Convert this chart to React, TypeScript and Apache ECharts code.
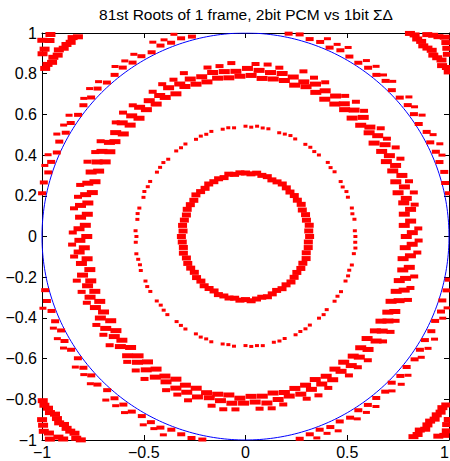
import React, { useEffect, useRef } from "react";
import * as echarts from "echarts";

// ---- data (radii, indexed by evenly spaced angles) ----
const TITLE = "81st Roots of 1 frame, 2bit PCM vs 1bit ΣΔ";
const X_TICKS_INTERVAL = 0.5;
const Y_TICKS_INTERVAL = 0.2;

// inner ring, 5° steps
const ringA = [
  0.315, 0.312, 0.318, 0.310, 0.314, 0.308, 0.316, 0.311, 0.313, 0.309, 0.312, 0.315,
  0.310, 0.307, 0.313, 0.311, 0.316, 0.309, 0.312, 0.314, 0.310, 0.317, 0.308, 0.313,
  0.311, 0.315, 0.309, 0.312, 0.318, 0.310, 0.313, 0.316, 0.309, 0.311, 0.314, 0.308,
  0.315, 0.312, 0.310, 0.316, 0.309, 0.313, 0.311, 0.307, 0.314, 0.310, 0.316, 0.312,
  0.309, 0.315, 0.311, 0.313, 0.308, 0.314, 0.310, 0.317, 0.312, 0.309, 0.315, 0.311,
  0.306, 0.313, 0.310, 0.316, 0.312, 0.308, 0.314, 0.311, 0.317, 0.309, 0.313, 0.310,
];

// thin ring, 3° steps (null = gap)
const ringB = [
  0.540, 0.538, null, 0.542, 0.537, 0.541, null, 0.539, 0.543, 0.536, 0.540, null,
  0.541, 0.538, 0.544, null, 0.539, 0.537, 0.542, 0.540, null, 0.538, 0.543, 0.539,
  0.536, null, 0.541, 0.540, 0.545, 0.538, 0.542, null, 0.537, 0.541, 0.539, null,
  0.543, 0.538, 0.540, 0.536, null, 0.542, 0.539, 0.541, null, 0.537, 0.543, 0.540,
  0.538, null, 0.541, 0.539, 0.544, 0.537, null, 0.540, 0.542, 0.538, null, 0.541,
  0.536, 0.540, null, 0.543, 0.539, 0.537, 0.541, null, 0.538, 0.542, 0.540, null,
  0.539, 0.536, 0.541, 0.543, null, 0.538, 0.540, 0.542, null, 0.537, 0.541, 0.539,
  0.544, null, 0.540, 0.538, 0.542, null, 0.536, 0.541, 0.539, 0.543, null, 0.538,
  0.540, 0.537, null, 0.542, 0.539, 0.541, 0.538, null, 0.540, 0.543, 0.537, null,
  0.541, 0.539, 0.542, null, 0.538, 0.540, 0.536, 0.541, null, 0.539, 0.543, 0.540,
];

// thick ring, three layers, 4° steps
const ringCInner = [
  0.790, 0.782, 0.788, 0.795, 0.780, 0.786, 0.792, 0.784, 0.789, 0.781,
  0.793, 0.787, 0.783, 0.791, 0.785, 0.779, 0.788, 0.794, 0.782, 0.790,
  0.786, 0.781, 0.792, 0.788, 0.784, 0.790, 0.783, 0.787, 0.795, 0.780,
  0.789, 0.785, 0.791, 0.782, 0.788, 0.784, 0.793, 0.786, 0.781, 0.790,
  0.787, 0.783, 0.792, 0.785, 0.789, 0.780, 0.794, 0.786, 0.782, 0.791,
  0.788, 0.784, 0.790, 0.781, 0.787, 0.793, 0.785, 0.789, 0.782, 0.786,
  0.792, 0.780, 0.788, 0.784, 0.791, 0.787, 0.783, 0.795, 0.786, 0.789,
  0.781, 0.790, 0.785, 0.788, 0.782, 0.793, 0.786, 0.784, 0.791, 0.787,
  0.780, 0.789, 0.785, 0.792, 0.783, 0.788, 0.786, 0.790, 0.782, 0.787,
];
const ringCMid = [
  0.820, 0.815, 0.822, 0.812, 0.818, 0.825, 0.816, 0.811, 0.821, 0.817,
  0.814, 0.823, 0.819, 0.813, 0.820, 0.816, 0.824, 0.812, 0.818, 0.821,
  0.815, 0.819, 0.826, 0.813, 0.817, 0.822, 0.814, 0.820, 0.816, 0.823,
  0.811, 0.818, 0.821, 0.815, 0.824, 0.817, 0.813, 0.820, 0.816, 0.822,
  0.818, 0.812, 0.825, 0.816, 0.819, 0.814, 0.821, 0.817, 0.823, 0.813,
  0.820, 0.816, 0.818, 0.822, 0.811, 0.819, 0.824, 0.815, 0.817, 0.821,
  0.814, 0.820, 0.818, 0.823, 0.812, 0.816, 0.822, 0.819, 0.815, 0.825,
  0.817, 0.813, 0.821, 0.818, 0.816, 0.824, 0.812, 0.820, 0.815, 0.819,
  0.822, 0.817, 0.814, 0.821, 0.818, 0.823, 0.813, 0.819, 0.816, 0.820,
];
const ringCOuter = [
  0.850, null, 0.846, 0.855, 0.848, null, 0.852, 0.858, 0.845, 0.851,
  null, 0.849, 0.856, 0.847, null, 0.853, 0.850, 0.860, null, 0.846,
  0.852, 0.849, null, 0.855, 0.847, 0.851, null, 0.858, 0.848, 0.853,
  0.845, null, 0.850, 0.856, 0.849, null, 0.852, 0.847, 0.859, null,
  0.851, 0.846, 0.854, null, 0.849, 0.853, 0.848, null, 0.857, 0.850,
  0.845, null, 0.852, 0.849, 0.855, null, 0.847, 0.851, 0.858, null,
  0.850, 0.846, 0.853, null, 0.848, 0.856, 0.851, null, 0.849, 0.854,
  0.846, null, 0.852, 0.859, 0.848, null, 0.851, 0.847, 0.855, null,
  0.850, 0.853, 0.846, null, 0.857, 0.849, 0.852, null, 0.848, 0.851,
];

// ring just outside the unit circle, two layers, 3° steps
const ringDInner = [
  1.020, 1.025, 1.018, 1.030, 1.022, 1.016, 1.027, 1.021, 1.024, 1.019,
  1.028, 1.015, 1.023, 1.026, 1.020, 1.017, 1.029, 1.022, 1.025, 1.018,
  1.021, 1.027, 1.016, 1.024, 1.020, 1.028, 1.019, 1.023, 1.015, 1.026,
  1.022, 1.018, 1.025, 1.021, 1.029, 1.017, 1.024, 1.020, 1.027, 1.016,
  1.023, 1.019, 1.026, 1.022, 1.018, 1.028, 1.021, 1.025, 1.017, 1.024,
  1.020, 1.027, 1.015, 1.023, 1.019, 1.026, 1.022, 1.029, 1.018, 1.021,
  1.025, 1.020, 1.016, 1.028, 1.023, 1.019, 1.026, 1.021, 1.024, 1.017,
  1.027, 1.022, 1.018, 1.025, 1.020, 1.029, 1.016, 1.023, 1.021, 1.026,
  1.019, 1.024, 1.028, 1.017, 1.022, 1.025, 1.020, 1.018, 1.027, 1.023,
  1.016, 1.021, 1.026, 1.019, 1.024, 1.029, 1.022, 1.017, 1.025, 1.020,
  1.028, 1.018, 1.023, 1.021, 1.026, 1.016, 1.024, 1.019, 1.027, 1.022,
  1.018, 1.025, 1.020, 1.029, 1.017, 1.023, 1.021, 1.026, 1.019, 1.024,
];
const ringDOuter = [
  1.050, 1.046, null, 1.055, 1.048, 1.052, null, 1.045, 1.058, 1.049,
  null, 1.053, 1.047, 1.056, null, 1.051, 1.044, 1.054, 1.049, null,
  1.057, 1.046, 1.052, null, 1.048, 1.055, 1.050, null, 1.047, 1.053,
  1.045, null, 1.056, 1.049, 1.051, null, 1.054, 1.046, 1.058, null,
  1.050, 1.047, 1.053, null, 1.049, 1.056, 1.045, null, 1.052, 1.048,
  1.055, null, 1.050, 1.046, 1.057, null, 1.051, 1.049, 1.044, null,
  1.053, 1.047, 1.055, null, 1.050, 1.048, 1.056, null, 1.046, 1.052,
  1.049, null, 1.054, 1.045, 1.051, null, 1.057, 1.048, 1.050, null,
  1.053, 1.046, 1.055, null, 1.049, 1.051, 1.047, null, 1.056, 1.050,
  1.045, null, 1.052, 1.048, 1.054, null, 1.050, 1.047, 1.058, null,
  1.051, 1.049, 1.053, null, 1.046, 1.055, 1.050, null, 1.048, 1.052,
  1.057, null, 1.049, 1.051, 1.045, null, 1.054, 1.050, 1.047, null,
];

// outermost ring, seen only in the corners
const ringECornerAngles = [45, 135, 225, 315];
const ringEOffsets = [-6, -5, -4, -3, -2, -1, 0, 1, 2, 3, 4, 5, 6];
const ringEInner = [
  [1.285, 1.292, 1.280, 1.296, 1.288, 1.283, 1.294, 1.287, 1.281, 1.290, 1.286, 1.293, 1.284],
  [1.288, 1.281, 1.295, 1.284, 1.290, 1.286, 1.297, 1.283, 1.291, 1.279, 1.289, 1.285, 1.292],
  [1.282, 1.290, 1.286, 1.293, 1.280, 1.288, 1.295, 1.284, 1.289, 1.287, 1.281, 1.294, 1.286],
  [1.291, 1.284, 1.289, 1.280, 1.295, 1.287, 1.283, 1.292, 1.285, 1.290, 1.282, 1.288, 1.293],
];
const ringEOuter = [
  [1.345, 1.332, 1.350, 1.338, 1.356, 1.372, 1.385, 1.365, 1.352, 1.335, 1.348, 1.330, 1.343],
  [1.338, 1.347, 1.333, 1.355, 1.368, 1.380, 1.362, 1.388, 1.350, 1.342, 1.336, 1.349, 1.331],
  [1.341, 1.335, 1.352, 1.345, 1.360, 1.378, 1.366, 1.384, 1.348, 1.339, 1.353, 1.333, 1.346],
  [1.336, 1.349, 1.340, 1.358, 1.371, 1.364, 1.382, 1.375, 1.355, 1.344, 1.337, 1.351, 1.332],
];

const UNIT_RADIUS = 1;
const CIRCLE_STEP_DEG = 1;

// ---- helpers: polar (angle, radius) -> cartesian pairs ----
const rad = (d: number) => (d * Math.PI) / 180;
function ringToXY(radii: (number | null)[], offsetDeg = 0): number[][] {
  const out: number[][] = [];
  const step = 360 / radii.length;
  radii.forEach((r, i) => {
    if (r == null) return;
    const a = rad(offsetDeg + i * step);
    out.push([r * Math.cos(a), r * Math.sin(a)]);
  });
  return out;
}
function cornersToXY(radiiPerCorner: number[][]): number[][] {
  const out: number[][] = [];
  ringECornerAngles.forEach((c, k) => {
    radiiPerCorner[k].forEach((r, j) => {
      const a = rad(c + ringEOffsets[j]);
      out.push([r * Math.cos(a), r * Math.sin(a)]);
    });
  });
  return out;
}
function unitCircle(): number[][] {
  const out: number[][] = [];
  for (let d = 0; d <= 360; d += CIRCLE_STEP_DEG) {
    out.push([UNIT_RADIUS * Math.cos(rad(d)), UNIT_RADIUS * Math.sin(rad(d))]);
  }
  return out;
}

const FONT = "'Liberation Sans', Arial, Helvetica, sans-serif";
const fmt = (v: number) => String(Math.round(v * 10) / 10).replace("-", "\u2212");

export default function App() {
  const ref = useRef<HTMLDivElement>(null);
  useEffect(() => {
    if (!ref.current) return;
    const chart = echarts.init(ref.current, undefined, { renderer: "svg" });
    const red = "#ff0000";
    const scatter = (data: number[][], size: number[]) => ({
      type: "scatter",
      data,
      symbol: "rect",
      symbolSize: size,
      itemStyle: { color: red, opacity: 1 },
      clip: true,
      silent: true,
      z: 2,
    });
    const axisCommon = {
      type: "value",
      min: -1,
      max: 1,
      axisLine: { show: true, onZero: false, lineStyle: { color: "#000", width: 1 } },
      axisTick: { show: true, inside: true, length: 5, lineStyle: { color: "#000" } },
      splitLine: { show: false },
    };
    chart.setOption({
      animation: false,
      backgroundColor: "#fff",
      grid: {
        left: 42,
        right: 1,
        top: 33,
        bottom: 21,
        containLabel: false,
        outerBoundsMode: "none",
      },
      graphic: [
        {
          type: "text",
          x: 246,
          y: 14,
          style: {
            text: TITLE,
            fill: "#000",
            fontSize: 15.5,
            fontFamily: FONT,
            textAlign: "center",
            textVerticalAlign: "middle",
          },
        },
      ],
      xAxis: [
        {
          ...axisCommon,
          interval: X_TICKS_INTERVAL,
          position: "bottom",
          axisLabel: {
            color: "#000",
            fontSize: 16,
            fontFamily: FONT,
            margin: 4,
            formatter: fmt,
            alignMaxLabel: "right",
          },
        },
        {
          ...axisCommon,
          interval: X_TICKS_INTERVAL,
          position: "top",
          axisLabel: { show: false },
        },
      ],
      yAxis: [
        {
          ...axisCommon,
          interval: Y_TICKS_INTERVAL,
          position: "left",
          axisLabel: { color: "#000", fontSize: 16, fontFamily: FONT, margin: 5, formatter: fmt },
        },
        {
          ...axisCommon,
          interval: Y_TICKS_INTERVAL,
          position: "right",
          axisLabel: { show: false },
        },
      ],
      series: [
        {
          type: "line",
          data: unitCircle(),
          showSymbol: false,
          symbol: "none",
          lineStyle: { color: "#0000ff", width: 1 },
          silent: true,
          z: 1,
        },
        scatter(ringToXY(ringA), [9, 5]),
        scatter(ringToXY(ringB), [4, 3]),
        scatter(ringToXY(ringCInner, 0), [11, 5]),
        scatter(ringToXY(ringCMid, 1.33), [11, 5]),
        scatter(ringToXY(ringCOuter, 2.67), [8, 4]),
        scatter(ringToXY(ringDInner, 0), [8, 4]),
        scatter(ringToXY(ringDOuter, 1.5), [7, 3]),
        scatter(cornersToXY(ringEInner), [10, 5]),
        scatter(cornersToXY(ringEOuter), [10, 5]),
      ],
    });
    return () => chart.dispose();
  }, []);
  return (
    <div
      ref={ref}
      style={{ position: "fixed", left: 0, top: 0, width: 450, height: 461 }}
    />
  );
}
